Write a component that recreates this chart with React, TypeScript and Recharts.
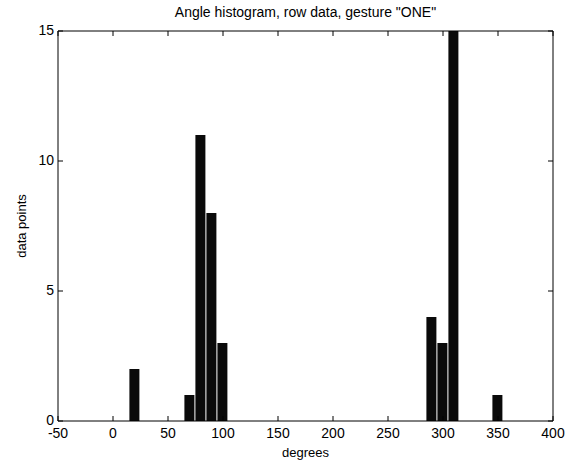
import React from "react";
import { ComposedChart, Bar, XAxis, YAxis, Label } from "recharts";

// histogram bins (bin centre in degrees, count)
const binCenters = [19, 69, 79, 89, 99, 289, 299, 309, 349];
const binCounts = [2, 1, 11, 8, 3, 4, 3, 15, 1];

const xTicks = [-50, 0, 50, 100, 150, 200, 250, 300, 350, 400];
const yTicks = [0, 5, 10, 15];

const data = binCenters.map((deg, i) => ({ deg, count: binCounts[i] }));

const FONT = "'Liberation Sans', Arial, Helvetica, sans-serif";
const TICK_LEN = 5;

const BottomTick = ({ x, y, payload }: any) => (
  <g>
    <line x1={x} y1={y} x2={x} y2={y - TICK_LEN} stroke="#000" />
    <text x={x} y={y + 17} textAnchor="middle" fontSize={14} fontFamily={FONT} fill="#000">
      {payload.value}
    </text>
  </g>
);

const TopTick = ({ x, y }: any) => (
  <line x1={x} y1={y} x2={x} y2={y + TICK_LEN} stroke="#000" />
);

const LeftTick = ({ x, y, payload }: any) => (
  <g>
    <line x1={x} y1={y} x2={x + TICK_LEN} y2={y} stroke="#000" />
    <text x={x - 4} y={y + 4} textAnchor="end" fontSize={14} fontFamily={FONT} fill="#000">
      {payload.value}
    </text>
  </g>
);

const RightTick = ({ x, y }: any) => (
  <line x1={x} y1={y} x2={x - TICK_LEN} y2={y} stroke="#000" />
);

const YTitle = ({ viewBox }: any) => {
  const cx = viewBox.x + 26;
  const cy = viewBox.y + viewBox.height / 2;
  return (
    <text
      x={cx}
      y={cy}
      transform={`rotate(-90, ${cx}, ${cy})`}
      textAnchor="middle"
      fontSize={13}
      fontFamily={FONT}
      fill="#000"
    >
      data points
    </text>
  );
};

const TopTitle = ({ viewBox }: any) => (
  <text
    x={viewBox.x + viewBox.width / 2}
    y={viewBox.y - 13}
    textAnchor="middle"
    fontSize={14}
    fontFamily={FONT}
    fill="#000"
  >
    Angle histogram, row data, gesture "ONE"
  </text>
);

const XTitle = ({ viewBox }: any) => (
  <text
    x={viewBox.x + viewBox.width / 2}
    y={viewBox.y + 36}
    textAnchor="middle"
    fontSize={13}
    fontFamily={FONT}
    fill="#000"
  >
    degrees
  </text>
);

export default function App() {
  return (
    <div style={{ position: "absolute", left: 0, top: 0, background: "#fff" }}>
      <ComposedChart
        width={570}
        height={461}
        data={data}
        margin={{ top: 30, right: 16, bottom: 0, left: 0 }}
      >
        <XAxis
          dataKey="deg"
          type="number"
          domain={[-50, 400]}
          ticks={xTicks}
          interval={0}
          height={40}
          tickSize={0}
          tickMargin={0}
          tick={<BottomTick />}
          axisLine={{ stroke: "#000" }}
          allowDataOverflow
        >
          <Label content={<XTitle />} />
        </XAxis>
        <XAxis
          xAxisId="top"
          orientation="top"
          dataKey="deg"
          type="number"
          domain={[-50, 400]}
          ticks={xTicks}
          interval={0}
          height={1}
          tickSize={0}
          tickMargin={0}
          tick={<TopTick />}
          axisLine={{ stroke: "#000" }}
          allowDataOverflow
        >
          <Label content={<TopTitle />} />
        </XAxis>
        <YAxis
          domain={[0, 15]}
          ticks={yTicks}
          interval={0}
          width={58}
          tickSize={0}
          tickMargin={0}
          tick={<LeftTick />}
          axisLine={{ stroke: "#000" }}
          allowDataOverflow
        >
          <Label content={<YTitle />} />
        </YAxis>
        <YAxis
          yAxisId="right"
          orientation="right"
          domain={[0, 15]}
          ticks={yTicks}
          interval={0}
          width={1}
          tickSize={0}
          tickMargin={0}
          tick={<RightTick />}
          axisLine={{ stroke: "#000" }}
          allowDataOverflow
        />
        <Bar dataKey="count" fill="#0a0a0a" barSize={10} isAnimationActive={false} />
      </ComposedChart>
    </div>
  );
}
